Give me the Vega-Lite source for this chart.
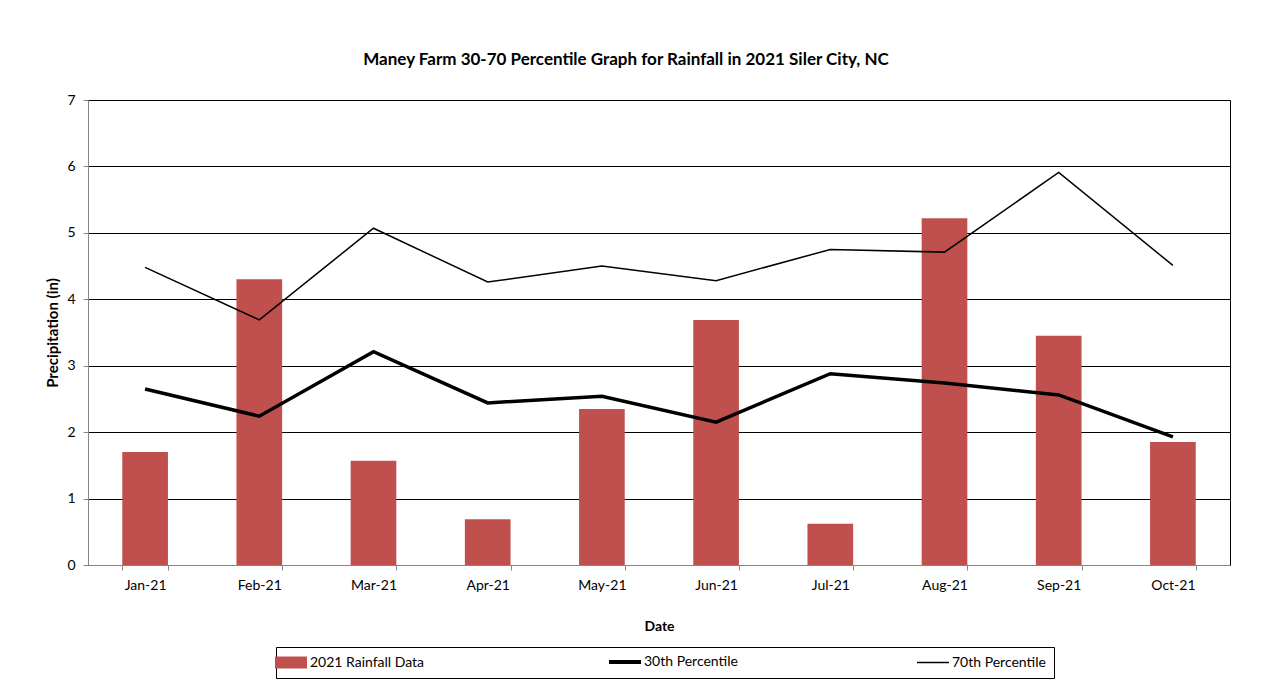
{
  "$schema": "https://vega.github.io/schema/vega-lite/v6.json",
  "width": 1142,
  "height": 465,
  "autosize": {"type": "none"},
  "padding": {"left": 88, "top": 100, "right": 42, "bottom": 129},
  "background": "white",
  "title": {
    "text": "Maney Farm 30-70 Percentile Graph for Rainfall in 2021 Siler City, NC",
    "font": "Lato",
    "fontSize": 17,
    "fontWeight": "bold",
    "color": "black",
    "anchor": "middle",
    "dx": -33,
    "offset": 24
  },
  "data": {
    "values": [
      {"month": "Jan-21", "rain": 1.70, "p30": 2.65, "p70": 4.48},
      {"month": "Feb-21", "rain": 4.30, "p30": 2.24, "p70": 3.69},
      {"month": "Mar-21", "rain": 1.57, "p30": 3.21, "p70": 5.07},
      {"month": "Apr-21", "rain": 0.69, "p30": 2.44, "p70": 4.26},
      {"month": "May-21", "rain": 2.35, "p30": 2.54, "p70": 4.50},
      {"month": "Jun-21", "rain": 3.69, "p30": 2.15, "p70": 4.28},
      {"month": "Jul-21", "rain": 0.62, "p30": 2.88, "p70": 4.75},
      {"month": "Aug-21", "rain": 5.22, "p30": 2.74, "p70": 4.71},
      {"month": "Sep-21", "rain": 3.45, "p30": 2.56, "p70": 5.91},
      {"month": "Oct-21", "rain": 1.85, "p30": 1.93, "p70": 4.51}
    ]
  },
  "encoding": {
    "x": {
      "field": "month",
      "type": "ordinal",
      "sort": null,
      "scale": {"paddingInner": 0.6, "paddingOuter": 0.3},
      "axis": {
        "title": "Date",
        "labelAngle": 0,
        "tickBand": "extent",
        "grid": false,
        "labelFont": "Lato",
        "labelFontSize": 14,
        "labelColor": "black",
        "labelPadding": 8,
        "titleFont": "Lato",
        "titleFontSize": 14,
        "titleFontWeight": "bold",
        "titleColor": "black",
        "titlePadding": 27,
        "domainColor": "#868686",
        "tickColor": "#868686",
        "tickSize": 5
      }
    }
  },
  "layer": [
    {
      "mark": {"type": "bar", "color": "#c0504d"},
      "encoding": {
        "y": {
          "field": "rain",
          "type": "quantitative",
          "scale": {"domain": [0, 7], "nice": false},
          "axis": {
            "title": "Precipitation (in)",
            "values": [0, 1, 2, 3, 4, 5, 6, 7],
            "format": "d",
            "grid": true,
            "gridColor": "black",
            "gridWidth": 1,
            "labelFont": "Lato",
            "labelFontSize": 14,
            "labelColor": "black",
            "labelPadding": 8,
            "titleFont": "Lato",
            "titleFontSize": 15,
            "titleFontWeight": "bold",
            "titleColor": "black",
            "titlePadding": 6,
            "domainColor": "#868686",
            "tickColor": "#868686",
            "tickSize": 5
          }
        },
        "color": {
          "datum": "2021 Rainfall Data",
          "type": "nominal",
          "scale": {
            "domain": ["2021 Rainfall Data", "30th Percentile", "70th Percentile"],
            "range": ["#c0504d", "black", "black"]
          },
          "legend": {
            "title": null,
            "orient": "none",
            "direction": "horizontal",
            "legendX": 188,
            "legendY": 547,
            "padding": 8,
            "strokeColor": "black",
            "fillColor": "white",
            "labelFont": "Lato",
            "labelFontSize": 14,
            "labelColor": "black",
            "labelOffset": 12,
            "columnPadding": 176,
            "symbolSize": 1024,
            "encode": {
              "symbols": {
                "update": {
                  "shape": {"signal": "datum.value === '2021 Rainfall Data' ? 'M-1,-0.375H1V0.375H-1Z' : 'M-1,0H1'"},
                  "fill": {"signal": "datum.value === '2021 Rainfall Data' ? '#c0504d' : 'transparent'"},
                  "stroke": {"signal": "datum.value === '2021 Rainfall Data' ? '#c0504d' : 'black'"},
                  "strokeWidth": {"signal": "datum.value === '30th Percentile' ? 4 : (datum.value === '70th Percentile' ? 1.5 : 0)"},
                  "opacity": {"value": 1}
                }
              }
            }
          }
        }
      }
    },
    {
      "mark": {"type": "line", "strokeWidth": 3.5, "strokeJoin": "miter"},
      "encoding": {
        "y": {"field": "p30", "type": "quantitative"},
        "color": {"datum": "30th Percentile", "type": "nominal"}
      }
    },
    {
      "mark": {"type": "line", "strokeWidth": 1.5, "strokeJoin": "miter"},
      "encoding": {
        "y": {"field": "p70", "type": "quantitative"},
        "color": {"datum": "70th Percentile", "type": "nominal"}
      }
    }
  ],
  "config": {
    "view": {"stroke": "black", "strokeWidth": 1}
  }
}
